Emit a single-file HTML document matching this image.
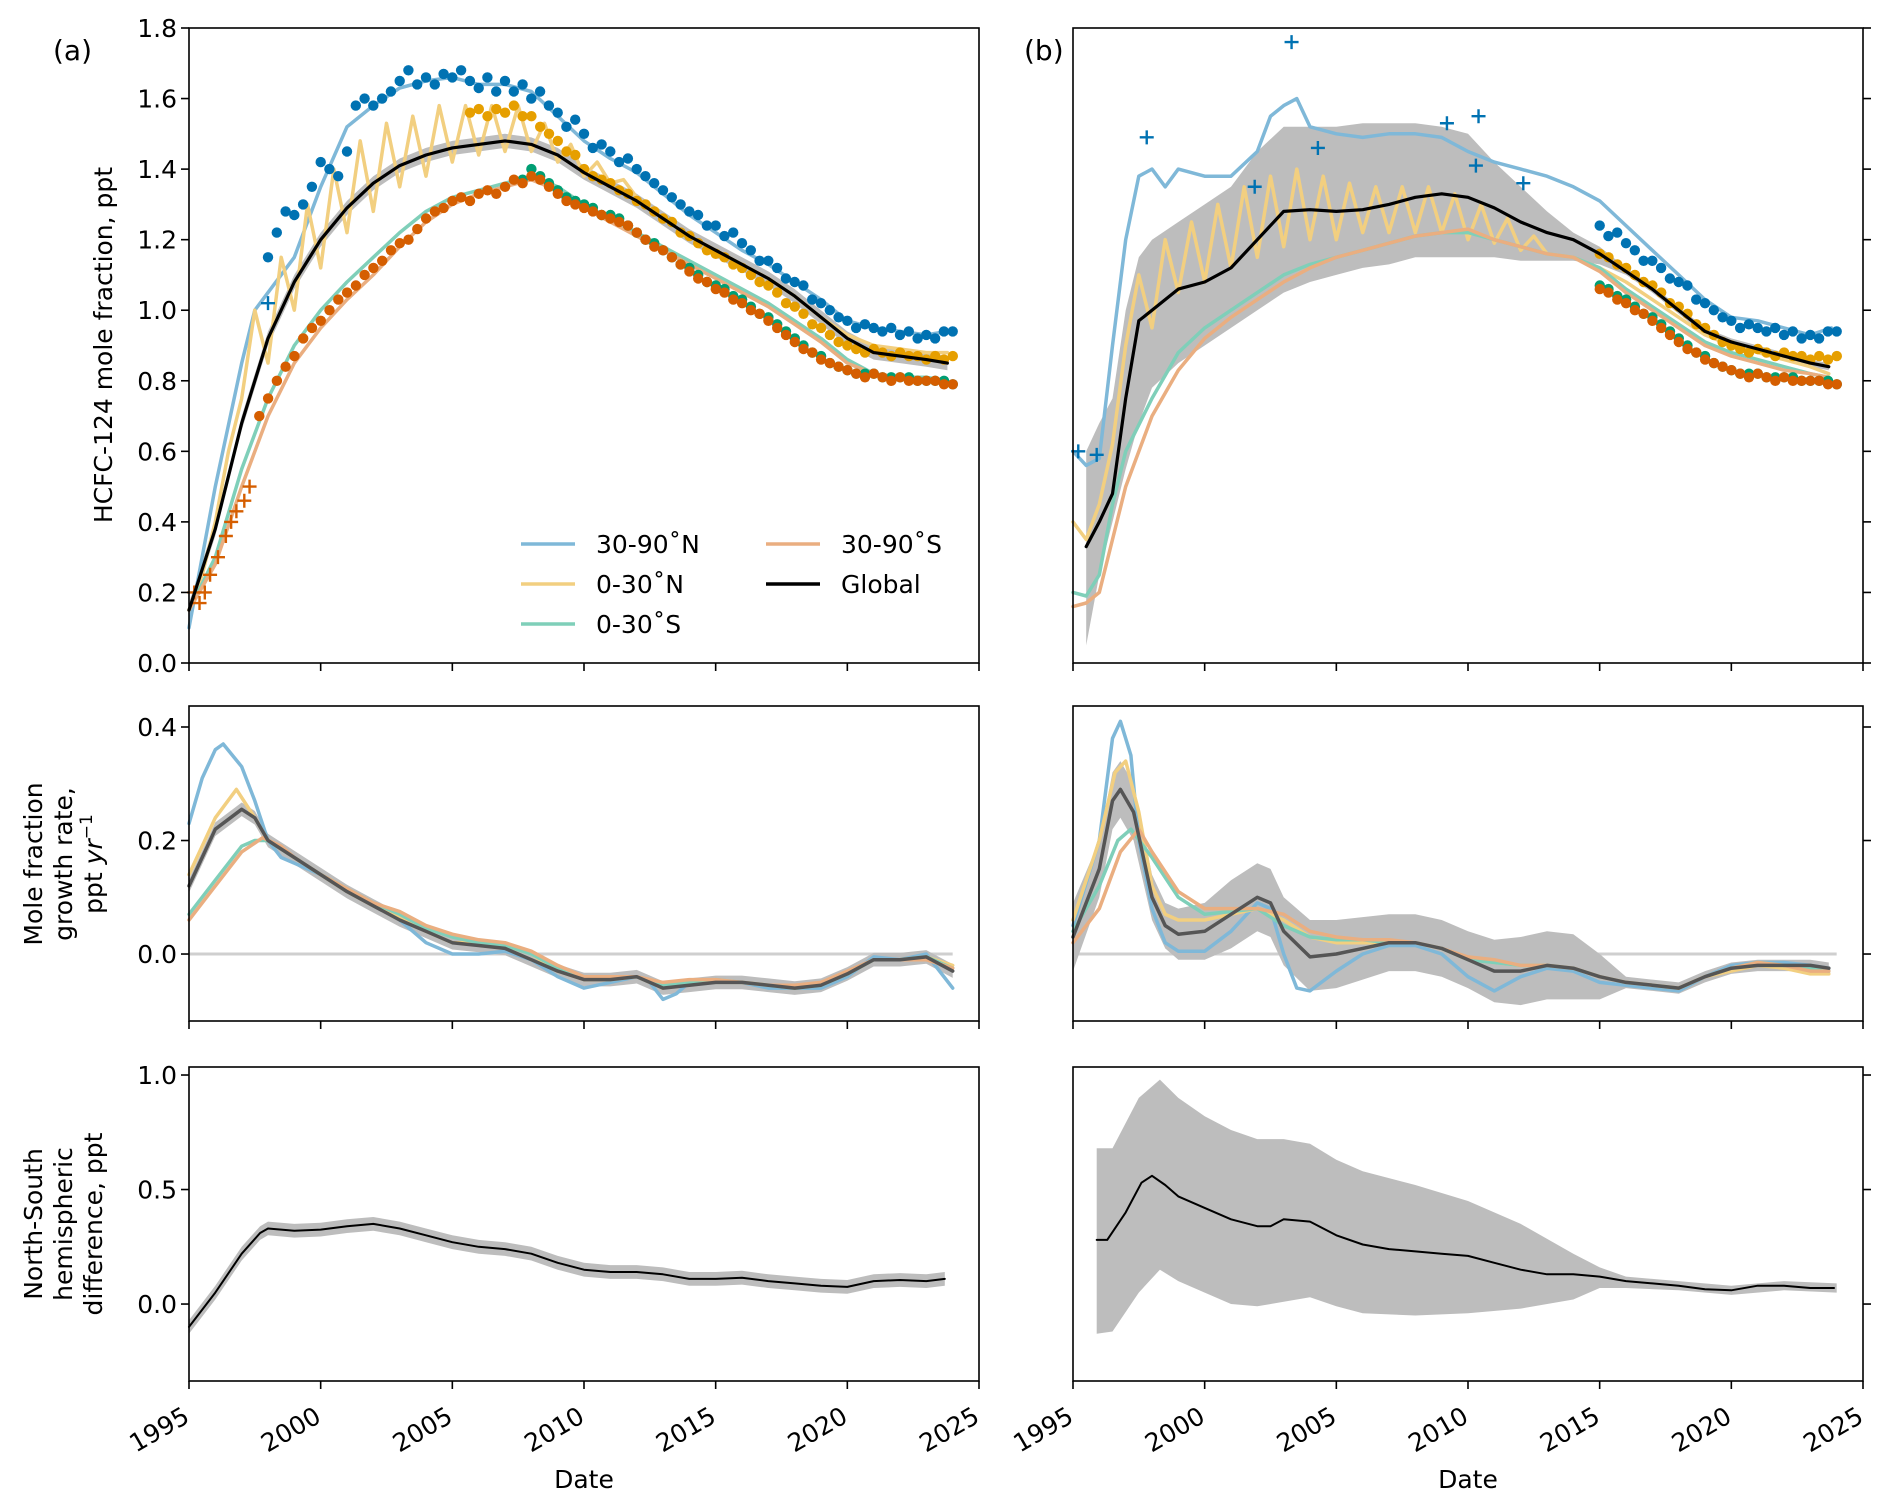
<!DOCTYPE html>
<html><head><meta charset="utf-8"><style>
body{margin:0;background:#fff}
svg{display:block;font-family:"DejaVu Sans","Liberation Sans",sans-serif}
</style></head><body>
<svg id="chart" width="1892" height="1509" viewBox="0 0 1892 1509" xmlns="http://www.w3.org/2000/svg"></svg>
<script>
// ---------- DATA ----------
const xTickYears=[1995,2000,2005,2010,2015,2020,2025];
const topTicks=[0,0.2,0.4,0.6,0.8,1.0,1.2,1.4,1.6,1.8];
const midTicks=[0,0.2,0.4];
const botTicks=[0,0.5,1.0];

// (a) top lines
const aGlobYr=[1995,1996,1997,1998,1999,2000,2001,2002,2003,2004,2005,2006,2007,2008,2009,2010,2011,2012,2013,2014,2015,2016,2017,2018,2019,2020,2021,2022,2023,2023.8];
const aGlobV=[0.15,0.38,0.68,0.92,1.08,1.2,1.29,1.36,1.41,1.44,1.46,1.47,1.48,1.47,1.44,1.39,1.35,1.31,1.26,1.21,1.17,1.13,1.09,1.04,0.98,0.92,0.88,0.87,0.86,0.85];
const aNYr=[1995,1996,1997,1997.5,1998,1999,2000,2001,2002,2003,2004,2005,2006,2007,2008,2009,2010,2011,2012,2013,2014,2015,2016,2017,2018,2019,2020,2021,2022,2023,2023.8];
const aNV=[0.1,0.5,0.85,1.0,1.05,1.15,1.35,1.52,1.58,1.63,1.65,1.66,1.64,1.64,1.62,1.55,1.48,1.43,1.39,1.33,1.27,1.22,1.17,1.13,1.08,1.03,0.97,0.95,0.94,0.93,0.94];
const aTNYr=[1995,1995.5,1996,1996.5,1997,1997.5,1998,1998.5,1999,1999.5,2000,2000.5,2001,2001.5,2002,2002.5,2003,2003.5,2004,2004.5,2005,2005.5,2006,2006.5,2007,2007.5,2008,2008.5,2009,2009.5,2010,2010.5,2011,2011.5,2012,2013,2014,2015,2016,2017,2018,2019,2020,2021,2022,2023,2023.8];
const aTNV=[0.15,0.25,0.4,0.6,0.75,1.0,0.85,1.15,1.0,1.3,1.12,1.4,1.22,1.48,1.28,1.53,1.35,1.55,1.38,1.58,1.42,1.58,1.44,1.58,1.45,1.58,1.45,1.53,1.42,1.47,1.38,1.42,1.36,1.37,1.32,1.26,1.21,1.17,1.13,1.09,1.04,0.98,0.93,0.90,0.89,0.88,0.88];
const aTSYr=[1995,1996,1997,1998,1999,2000,2001,2002,2003,2004,2005,2006,2007,2008,2009,2010,2011,2012,2013,2014,2015,2016,2017,2018,2019,2020,2021,2022,2023,2023.8];
const aTSV=[0.15,0.3,0.55,0.75,0.9,1.0,1.08,1.15,1.22,1.28,1.32,1.34,1.36,1.38,1.35,1.30,1.26,1.22,1.18,1.14,1.10,1.06,1.02,0.97,0.92,0.86,0.82,0.81,0.81,0.80];
const aSV=[0.15,0.28,0.5,0.7,0.85,0.95,1.03,1.1,1.18,1.25,1.3,1.33,1.35,1.37,1.34,1.29,1.25,1.21,1.17,1.13,1.09,1.05,1.01,0.96,0.91,0.85,0.82,0.81,0.80,0.80];

// dots (3 per year)
const dotsNStart=1998, dotsNV=[1.15,1.22,1.28,1.27,1.3,1.35,1.42,1.40,1.38,1.45,1.58,1.6,1.58,1.6,1.62,1.65,1.68,1.64,1.66,1.64,1.67,1.66,1.68,1.65,1.63,1.66,1.62,1.65,1.62,1.64,1.6,1.62,1.58,1.56,1.52,1.54,1.5,1.46,1.47,1.45,1.42,1.43,1.40,1.38,1.36,1.34,1.32,1.30,1.28,1.27,1.24,1.24,1.21,1.22,1.19,1.17,1.14,1.14,1.12,1.09,1.08,1.07,1.03,1.02,1.0,0.98,0.97,0.95,0.96,0.95,0.94,0.95,0.93,0.94,0.92,0.93,0.92,0.94,0.94];
const dotsTNStart=2005.67, dotsTNV=[1.56,1.57,1.55,1.57,1.56,1.58,1.55,1.55,1.52,1.50,1.48,1.45,1.44,1.40,1.38,1.37,1.36,1.34,1.33,1.31,1.30,1.28,1.26,1.25,1.22,1.21,1.19,1.17,1.16,1.15,1.13,1.12,1.10,1.08,1.07,1.05,1.02,1.01,0.99,0.96,0.95,0.93,0.91,0.90,0.89,0.88,0.89,0.88,0.87,0.88,0.87,0.87,0.86,0.87,0.86,0.87];
const dotsTSStart=2007.67, dotsTSV=[1.37,1.40,1.38,1.36,1.34,1.32,1.31,1.30,1.29,1.27,1.27,1.26,1.24,1.22,1.20,1.19,1.17,1.15,1.13,1.12,1.10,1.08,1.07,1.06,1.04,1.03,1.01,0.99,0.98,0.96,0.94,0.92,0.90,0.88,0.87,0.85,0.84,0.83,0.82,0.82,0.82,0.81,0.81,0.81,0.81,0.80,0.80,0.80,0.80,0.79];
const dotsSStart=1997.67, dotsSV=[0.7,0.75,0.8,0.84,0.87,0.92,0.95,0.97,1.0,1.03,1.05,1.07,1.1,1.12,1.14,1.17,1.19,1.2,1.23,1.26,1.28,1.29,1.31,1.32,1.31,1.33,1.34,1.33,1.35,1.37,1.36,1.38,1.37,1.35,1.33,1.31,1.30,1.29,1.28,1.27,1.26,1.25,1.24,1.22,1.20,1.18,1.17,1.15,1.13,1.11,1.09,1.08,1.06,1.05,1.03,1.02,1.00,0.99,0.97,0.95,0.93,0.91,0.89,0.88,0.86,0.85,0.84,0.83,0.82,0.81,0.82,0.81,0.80,0.81,0.80,0.80,0.80,0.80,0.79,0.79];
const plusSYr=[1995.2,1995.4,1995.6,1995.8,1996.1,1996.4,1996.6,1996.8,1997.1,1997.3];
const plusSV=[0.2,0.17,0.2,0.25,0.3,0.36,0.4,0.43,0.46,0.5];
const plusNaYr=[1998.0], plusNaV=[1.02];

// (b) top
const bGlobYr=[1995.5,1996,1996.5,1997,1997.5,1998,1998.5,1999,2000,2001,2002,2003,2004,2005,2006,2007,2008,2009,2010,2011,2012,2013,2014,2015,2016,2017,2018,2019,2020,2021,2022,2023,2023.7];
const bGlobV=[0.33,0.4,0.48,0.75,0.97,1.0,1.03,1.06,1.08,1.12,1.2,1.28,1.285,1.28,1.285,1.3,1.32,1.33,1.32,1.29,1.25,1.22,1.20,1.16,1.11,1.06,1.0,0.94,0.91,0.89,0.87,0.85,0.84];
const bBandYr=[1995.5,1996,1996.5,1997,1997.5,1998,1999,2000,2001,2002,2003,2004,2005,2006,2007,2008,2009,2010,2011,2012,2013,2014,2015,2016,2017,2018,2019,2020,2021,2022,2023,2023.7];
const bBandHi=[0.6,0.68,0.75,1.0,1.15,1.2,1.25,1.3,1.35,1.45,1.52,1.52,1.52,1.53,1.53,1.53,1.52,1.5,1.42,1.35,1.28,1.22,1.18,1.12,1.07,1.01,0.95,0.92,0.90,0.88,0.86,0.85];
const bBandLo=[0.05,0.25,0.4,0.55,0.68,0.78,0.85,0.9,0.95,1.0,1.05,1.08,1.1,1.12,1.13,1.15,1.15,1.15,1.15,1.14,1.14,1.14,1.13,1.1,1.05,0.99,0.93,0.9,0.88,0.86,0.84,0.83];
const bNYr=[1995,1995.5,1996,1996.5,1997,1997.5,1998,1998.5,1999,2000,2001,2002,2002.5,2003,2003.5,2004,2005,2006,2007,2008,2009,2010,2011,2012,2013,2014,2015,2016,2017,2018,2019,2020,2021,2022,2023,2023.8];
const bNV=[0.6,0.56,0.58,0.9,1.2,1.38,1.4,1.35,1.4,1.38,1.38,1.45,1.55,1.58,1.6,1.52,1.5,1.49,1.5,1.5,1.49,1.45,1.42,1.4,1.38,1.35,1.31,1.24,1.17,1.1,1.03,0.98,0.97,0.95,0.93,0.95];
const bTNYr=[1995,1995.5,1996,1996.5,1997,1997.5,1998,1998.5,1999,1999.5,2000,2000.5,2001,2001.5,2002,2002.5,2003,2003.5,2004,2004.5,2005,2005.5,2006,2006.5,2007,2007.5,2008,2008.5,2009,2009.5,2010,2010.5,2011,2011.5,2012,2012.5,2013,2014,2015,2016,2017,2018,2019,2020,2021,2022,2023,2023.7];
const bTNV=[0.4,0.35,0.45,0.62,0.9,1.1,0.95,1.2,1.05,1.25,1.08,1.3,1.12,1.35,1.15,1.38,1.18,1.4,1.2,1.38,1.2,1.36,1.22,1.35,1.22,1.35,1.22,1.35,1.22,1.33,1.2,1.3,1.19,1.26,1.17,1.21,1.16,1.15,1.12,1.08,1.03,0.98,0.93,0.9,0.88,0.86,0.84,0.82];
const bTSYr=[1995,1995.5,1996,1996.5,1997,1998,1999,2000,2001,2002,2003,2004,2005,2006,2007,2008,2009,2010,2011,2012,2013,2014,2015,2016,2017,2018,2019,2020,2021,2022,2023,2023.7];
const bTSV=[0.2,0.19,0.25,0.45,0.6,0.75,0.88,0.95,1.0,1.05,1.1,1.13,1.15,1.17,1.19,1.21,1.22,1.22,1.2,1.18,1.16,1.15,1.12,1.06,1.01,0.96,0.91,0.88,0.86,0.84,0.82,0.81];
const bSV=[0.16,0.17,0.2,0.35,0.5,0.7,0.83,0.92,0.98,1.03,1.08,1.12,1.15,1.17,1.19,1.21,1.22,1.23,1.2,1.18,1.16,1.15,1.11,1.05,1.0,0.95,0.9,0.87,0.85,0.83,0.82,0.81];
const plusNbYr=[1995.2,1995.9,1997.8,2001.9,2003.3,2004.3,2009.2,2010.3,2010.4,2012.1];
const plusNbV=[0.6,0.59,1.49,1.35,1.76,1.46,1.53,1.41,1.55,1.36];

// (a) growth
const gaYr=[1995,1995.5,1996,1996.3,1997,1997.5,1998,1998.5,1999,2000,2001,2002,2003,2004,2005,2006,2007,2008,2009,2010,2011,2012,2012.5,2013,2013.5,2014,2015,2016,2017,2018,2019,2020,2021,2022,2023,2024];
const gaN=[0.23,0.31,0.36,0.37,0.33,0.27,0.2,0.17,0.16,0.14,0.11,0.09,0.06,0.02,0.0,0.0,0.005,-0.01,-0.04,-0.06,-0.05,-0.04,-0.05,-0.08,-0.07,-0.05,-0.05,-0.05,-0.06,-0.06,-0.06,-0.04,-0.005,-0.01,0.0,-0.06];
const gaGYr=[1995,1996,1997,1997.5,1998,1999,2000,2001,2002,2003,2004,2005,2006,2007,2008,2009,2010,2011,2012,2013,2014,2015,2016,2017,2018,2019,2020,2021,2022,2023,2024];
const gaG=[0.12,0.22,0.255,0.24,0.2,0.17,0.14,0.11,0.085,0.06,0.04,0.02,0.015,0.01,-0.01,-0.03,-0.045,-0.045,-0.04,-0.06,-0.055,-0.05,-0.05,-0.055,-0.06,-0.055,-0.035,-0.01,-0.01,-0.005,-0.03];
const gaTNYr=[1995,1996,1996.8,1997.5,1998,1999,2000,2001,2002,2003,2004,2005,2006,2007,2008,2009,2010,2011,2012,2013,2014,2015,2016,2017,2018,2019,2020,2021,2022,2023,2024];
const gaTN=[0.14,0.24,0.29,0.24,0.2,0.17,0.14,0.11,0.085,0.065,0.04,0.02,0.02,0.015,0.0,-0.03,-0.045,-0.045,-0.04,-0.06,-0.05,-0.05,-0.05,-0.055,-0.06,-0.055,-0.035,-0.01,-0.01,-0.005,-0.02];
const gaTSYr=[1995,1996,1997,1997.5,1998,1999,2000,2001,2002,2003,2004,2005,2006,2007,2008,2009,2010,2011,2012,2013,2014,2015,2016,2017,2018,2019,2020,2021,2022,2023,2024];
const gaTS=[0.07,0.13,0.19,0.2,0.2,0.17,0.14,0.115,0.09,0.07,0.045,0.03,0.02,0.015,0.0,-0.025,-0.04,-0.04,-0.04,-0.055,-0.05,-0.045,-0.05,-0.055,-0.06,-0.055,-0.035,-0.01,-0.01,-0.005,-0.025];
const gaSYr=[1995,1996,1997,1997.8,1998.5,1999,2000,2001,2002,2003,2004,2005,2006,2007,2008,2009,2010,2011,2012,2013,2014,2015,2016,2017,2018,2019,2020,2021,2022,2023,2024];
const gaS=[0.06,0.12,0.18,0.205,0.19,0.17,0.14,0.115,0.09,0.075,0.05,0.035,0.025,0.02,0.005,-0.02,-0.04,-0.04,-0.04,-0.05,-0.045,-0.045,-0.05,-0.055,-0.055,-0.05,-0.03,-0.01,-0.01,-0.01,-0.025];

// (b) growth
const gbYr=[1995,1996,1996.5,1996.8,1997.2,1997.5,1998,1998.5,1999,2000,2001,2002,2002.5,2003,2003.5,2004,2005,2006,2007,2008,2009,2010,2011,2012,2013,2014,2015,2016,2017,2018,2019,2020,2021,2022,2023,2023.7];
const gbN=[0.05,0.2,0.38,0.41,0.35,0.2,0.08,0.02,0.005,0.005,0.04,0.09,0.08,0.0,-0.06,-0.065,-0.03,0.0,0.015,0.015,0.0,-0.04,-0.065,-0.04,-0.025,-0.03,-0.05,-0.055,-0.06,-0.065,-0.04,-0.02,-0.015,-0.015,-0.02,-0.025];
const gbGYr=[1995,1996,1996.5,1996.8,1997.3,1998,1998.5,1999,2000,2001,2002,2002.5,2003,2004,2005,2006,2007,2008,2009,2010,2011,2012,2013,2014,2015,2016,2017,2018,2019,2020,2021,2022,2023,2023.7];
const gbG=[0.03,0.15,0.27,0.29,0.25,0.1,0.05,0.035,0.04,0.07,0.1,0.09,0.04,-0.005,0.0,0.01,0.02,0.02,0.01,-0.01,-0.03,-0.03,-0.02,-0.025,-0.04,-0.05,-0.055,-0.06,-0.04,-0.025,-0.02,-0.02,-0.02,-0.025];
const gbBandHi=[0.09,0.2,0.32,0.34,0.3,0.14,0.09,0.08,0.09,0.13,0.16,0.15,0.1,0.06,0.06,0.065,0.07,0.07,0.06,0.04,0.025,0.03,0.04,0.035,0.0,-0.04,-0.045,-0.05,-0.03,-0.015,-0.01,-0.01,-0.01,-0.015];
const gbBandLo=[-0.03,0.1,0.22,0.24,0.2,0.06,0.01,-0.01,-0.01,0.01,0.04,0.03,-0.02,-0.065,-0.06,-0.045,-0.03,-0.03,-0.04,-0.06,-0.085,-0.09,-0.08,-0.08,-0.08,-0.06,-0.065,-0.07,-0.05,-0.035,-0.03,-0.03,-0.03,-0.035];
const gbTNYr=[1995,1996,1996.6,1997,1997.5,1998,1998.5,1999,2000,2001,2002,2003,2004,2005,2006,2007,2008,2009,2010,2011,2012,2013,2014,2015,2016,2017,2018,2019,2020,2021,2022,2023,2023.7];
const gbTN=[0.06,0.2,0.32,0.34,0.25,0.12,0.07,0.06,0.06,0.07,0.08,0.06,0.03,0.02,0.02,0.02,0.02,0.01,-0.01,-0.015,-0.02,-0.02,-0.025,-0.04,-0.05,-0.055,-0.06,-0.04,-0.03,-0.02,-0.025,-0.035,-0.035];
const gbTSYr=[1995,1996,1996.7,1997.2,1998,1999,2000,2001,2002,2003,2004,2005,2006,2007,2008,2009,2010,2011,2012,2013,2014,2015,2016,2017,2018,2019,2020,2021,2022,2023,2023.7];
const gbTS=[0.04,0.12,0.2,0.22,0.17,0.1,0.07,0.075,0.08,0.05,0.03,0.025,0.025,0.02,0.02,0.01,-0.01,-0.015,-0.02,-0.02,-0.025,-0.04,-0.05,-0.055,-0.06,-0.04,-0.025,-0.015,-0.02,-0.025,-0.03];
const gbSYr=[1995,1996,1996.8,1997.5,1998,1999,2000,2001,2002,2003,2004,2005,2006,2007,2008,2009,2010,2011,2012,2013,2014,2015,2016,2017,2018,2019,2020,2021,2022,2023,2023.7];
const gbS=[0.02,0.08,0.18,0.22,0.18,0.11,0.08,0.08,0.08,0.07,0.04,0.03,0.025,0.025,0.02,0.01,-0.005,-0.01,-0.02,-0.02,-0.025,-0.04,-0.05,-0.055,-0.06,-0.04,-0.025,-0.015,-0.02,-0.03,-0.03];

// NS difference
const daYr=[1995,1996,1997,1997.7,1998,1999,2000,2001,2002,2003,2004,2005,2006,2007,2008,2009,2010,2011,2012,2013,2014,2015,2016,2017,2018,2019,2020,2021,2022,2023,2023.7];
const daV=[-0.1,0.05,0.22,0.31,0.33,0.32,0.325,0.34,0.35,0.33,0.3,0.27,0.25,0.24,0.22,0.18,0.15,0.14,0.14,0.13,0.11,0.11,0.115,0.1,0.09,0.08,0.075,0.1,0.105,0.1,0.11];
const dbYr=[1995.9,1996.3,1997,1997.6,1998,1998.5,1999,2000,2001,2002,2002.5,2003,2004,2005,2006,2007,2008,2009,2010,2011,2012,2013,2014,2015,2016,2017,2018,2019,2020,2021,2022,2023,2023.9];
const dbV=[0.28,0.28,0.4,0.53,0.56,0.52,0.47,0.42,0.37,0.34,0.34,0.37,0.36,0.3,0.26,0.24,0.23,0.22,0.21,0.18,0.15,0.13,0.13,0.12,0.1,0.09,0.08,0.065,0.06,0.08,0.08,0.07,0.07];
const dbBandYr=[1995.9,1996.5,1997.5,1998.3,1999,2000,2001,2002,2003,2004,2005,2006,2008,2010,2012,2014,2015,2016,2018,2020,2022,2024];
const dbHi=[0.68,0.68,0.9,0.98,0.9,0.82,0.76,0.72,0.72,0.7,0.63,0.58,0.52,0.45,0.35,0.22,0.16,0.12,0.1,0.08,0.1,0.09];
const dbLo=[-0.13,-0.12,0.05,0.15,0.1,0.05,0.0,-0.01,0.01,0.03,-0.01,-0.04,-0.05,-0.04,-0.02,0.02,0.07,0.07,0.06,0.04,0.06,0.05];

// ---------- DRAW ----------
const NS='http://www.w3.org/2000/svg';
const svg=document.getElementById('chart');
const PX={a:189,b:1073}, PW=790;
const rows={top:{t:28,b:663,min:0,max:1.8},mid:{t:706,b:1021,min:-0.118,max:0.437},bot:{t:1067,b:1381,min:-0.336,max:1.035}};
function X(p,yr){return PX[p]+(yr-1995)/30*PW;}
function Y(r,v){const R=rows[r];return R.b-(v-R.min)/(R.max-R.min)*(R.b-R.t);}
function el(tag,attrs,parent){const e=document.createElementNS(NS,tag);for(const k in attrs)e.setAttribute(k,attrs[k]);(parent||svg).appendChild(e);return e;}
const C={N:'#0072b2',TN:'#e69f00',TS:'#009e73',S:'#d55e00'};
const L={N:'#7fb8d8',TN:'#f2cf80',TS:'#7fcfb9',S:'#eaae80'};
function line(p,r,xs,vs,color,w,name,op){
  const d=xs.map((x,i)=>(i?'L':'M')+X(p,x).toFixed(1)+','+Y(r,vs[i]).toFixed(1)).join('');
  const e=el('path',{d:d,fill:'none',stroke:color,'stroke-width':w,'stroke-linejoin':'round','stroke-linecap':'round',opacity:op||1});
  
  
}
function band(p,r,xs,hi,lo,name,color){
  let d=xs.map((x,i)=>(i?'L':'M')+X(p,x).toFixed(1)+','+Y(r,hi[i]).toFixed(1)).join('');
  for(let i=xs.length-1;i>=0;i--)d+='L'+X(p,xs[i]).toFixed(1)+','+Y(r,lo[i]).toFixed(1);
  const e=el('path',{d:d+'Z',fill:color||'#bdbdbd',stroke:'none'});
  
  
}
function offsetBand(p,r,xs,vs,w,name){band(p,r,xs,vs.map(v=>v+w),vs.map(v=>v-w),name);}
function dots(p,start,vs,color,name,minYr){
  const g=el('g',{fill:color});
  
  
  vs.forEach((v,i)=>{const yr=start+i/3;if(minYr&&yr<minYr)return;el('circle',{cx:X(p,yr).toFixed(1),cy:Y('top',v).toFixed(1),r:5.2},g);});
}
function pluses(p,xs,vs,color,name){
  const g=el('g',{stroke:color,'stroke-width':2.4});
  
  
  xs.forEach((x,i)=>{const cx=X(p,x),cy=Y('top',vs[i]);el('path',{d:`M${cx-7},${cy}H${cx+7}M${cx},${cy-7}V${cy+7}`},g);});
}
function text(x,y,s,attrs,name){const e=el('text',Object.assign({x:x,y:y,'font-size':25,fill:'#000'},attrs||{}));e.textContent=s;return e;}

function frame(p,r,ticks,fmt,labels){
  const R=rows[r],x0=PX[p],x1=PX[p]+PW;
  const g=el('g',{stroke:'#000','stroke-width':1.6,fill:'none'});
  
  
  el('rect',{x:x0,y:R.t,width:PW,height:R.b-R.t},g);
  ticks.forEach(t=>{const y=Y(r,t);
    if(p==='a'){el('line',{x1:x0-8,y1:y,x2:x0,y2:y},g);text(x0-12,y+9,t.toFixed(1),{'text-anchor':'end'},`y-tick-label-${r}`);}
    else el('line',{x1:x1,y1:y,x2:x1+8,y2:y},g);
  });
  xTickYears.forEach(yr=>{const x=X(p,yr);el('line',{x1:x,y1:R.b,x2:x,y2:R.b+8},g);});
  if(labels){xTickYears.forEach(yr=>{const x=X(p,yr)+2,y=R.b+40;text(x,y,String(yr),{'text-anchor':'end',transform:`rotate(-30 ${x} ${y})`},`x-tick-label-${yr}`);});}
}

// top (a)
offsetBand('a','top',aGlobYr,aGlobV,0.02,'global-uncertainty-a');
line('a','top',aNYr,aNV,L.N,3.5,'line-30-90N-a');
line('a','top',aTNYr,aTNV,L.TN,3.5,'line-0-30N-a');
line('a','top',aTSYr,aTSV,L.TS,3.5,'line-0-30S-a');
line('a','top',aTSYr,aSV,L.S,3.5,'line-30-90S-a');
dots('a',dotsNStart,dotsNV,C.N,'obs-30-90N-a');
dots('a',dotsTNStart,dotsTNV,C.TN,'obs-0-30N-a');
dots('a',dotsTSStart,dotsTSV,C.TS,'obs-0-30S-a');
dots('a',dotsSStart,dotsSV,C.S,'obs-30-90S-a');
pluses('a',plusSYr,plusSV,C.S,'flask-30-90S-a');
pluses('a',plusNaYr,plusNaV,C.N,'flask-30-90N-a');
line('a','top',aGlobYr,aGlobV,'#000',3.2,'line-global-a');

// top (b)
band('b','top',bBandYr,bBandHi,bBandLo,'global-uncertainty-b');
line('b','top',bNYr,bNV,L.N,3.5,'line-30-90N-b');
line('b','top',bTNYr,bTNV,L.TN,3.5,'line-0-30N-b');
line('b','top',bTSYr,bTSV,L.TS,3.5,'line-0-30S-b');
line('b','top',bTSYr,bSV,L.S,3.5,'line-30-90S-b');
dots('b',dotsNStart,dotsNV,C.N,'obs-30-90N-b',2015);
dots('b',dotsTNStart,dotsTNV,C.TN,'obs-0-30N-b',2015);
dots('b',dotsTSStart,dotsTSV,C.TS,'obs-0-30S-b',2015);
dots('b',dotsSStart,dotsSV,C.S,'obs-30-90S-b',2015);
pluses('b',plusNbYr,plusNbV,C.N,'flask-30-90N-b');
line('b','top',bGlobYr,bGlobV,'#000',3.2,'line-global-b');

// growth
['a','b'].forEach(p=>{const e=el('line',{x1:X(p,1995),x2:X(p,2024),y1:Y('mid',0),y2:Y('mid',0),stroke:'#cfcfcf','stroke-width':3});});
offsetBand('a','mid',gaGYr,gaG,0.012,'growth-uncertainty-a');
line('a','mid',gaYr,gaN,L.N,3.5,'growth-30-90N-a');
line('a','mid',gaTNYr,gaTN,L.TN,3.5,'growth-0-30N-a');
line('a','mid',gaTSYr,gaTS,L.TS,3.5,'growth-0-30S-a');
line('a','mid',gaSYr,gaS,L.S,3.5,'growth-30-90S-a');
line('a','mid',gaGYr,gaG,'#555',3.5,'growth-global-a');
band('b','mid',gbGYr,gbBandHi,gbBandLo,'growth-uncertainty-b');
line('b','mid',gbYr,gbN,L.N,3.5,'growth-30-90N-b');
line('b','mid',gbTNYr,gbTN,L.TN,3.5,'growth-0-30N-b');
line('b','mid',gbTSYr,gbTS,L.TS,3.5,'growth-0-30S-b');
line('b','mid',gbSYr,gbS,L.S,3.5,'growth-30-90S-b');
line('b','mid',gbGYr,gbG,'#555',3.5,'growth-global-b');

// NS difference
offsetBand('a','bot',daYr,daV,0.03,'ns-diff-uncertainty-a');
line('a','bot',daYr,daV,'#000',2,'ns-diff-a');
band('b','bot',dbBandYr,dbHi,dbLo,'ns-diff-uncertainty-b');
line('b','bot',dbYr,dbV,'#000',2,'ns-diff-b');

// axes
frame('a','top',topTicks);frame('b','top',topTicks);
frame('a','mid',midTicks);frame('b','mid',midTicks);
frame('a','bot',botTicks,null,true);frame('b','bot',botTicks,null,true);

// labels
text(53,60,'(a)',{'font-size':28},'panel-label-a');
text(1024,60,'(b)',{'font-size':28},'panel-label-b');
text(584,1488,'Date',{'text-anchor':'middle'},'x-axis-title-a');
text(1468,1488,'Date',{'text-anchor':'middle'},'x-axis-title-b');
text(112,345,'HCFC-124 mole fraction, ppt',{'text-anchor':'middle',transform:'rotate(-90 112 345)'},'y-axis-title-top');
const mt=text(0,0,'',{'text-anchor':'middle',transform:'translate(0,864) rotate(-90)'},'y-axis-title-growth');
[['Mole fraction',42],['growth rate,',72]].forEach(([s,x])=>{const t=el('tspan',{x:0,y:x},mt);t.textContent=s;});
const t3=el('tspan',{x:0,y:102},mt);t3.textContent='ppt ';
const t4=el('tspan',{'font-style':'italic'},mt);t4.textContent='yr';
const t5=el('tspan',{dy:-10,'font-size':17},mt);t5.textContent='−1';
const bt=text(0,0,'',{'text-anchor':'middle',transform:'translate(0,1224) rotate(-90)'},'y-axis-title-ns');
[['North-South',42],['hemispheric',72],['difference, ppt',102]].forEach(([s,y])=>{const t=el('tspan',{x:0,y:y},bt);t.textContent=s;});

// legend
const leg=[['30-90˚N',L.N,521,544],['0-30˚N',L.TN,521,584],['0-30˚S',L.TS,521,624],['30-90˚S',L.S,766,544],['Global','#000',766,584]];
leg.forEach(([s,c,x,y])=>{
  const g=el('g',{});
  
  
  el('line',{x1:x,x2:x+54,y1:y,y2:y,stroke:c,'stroke-width':3.5},g);
  const t=el('text',{x:x+75,y:y+9,'font-size':25},g);t.textContent=s;
});
</script>
</body></html>
